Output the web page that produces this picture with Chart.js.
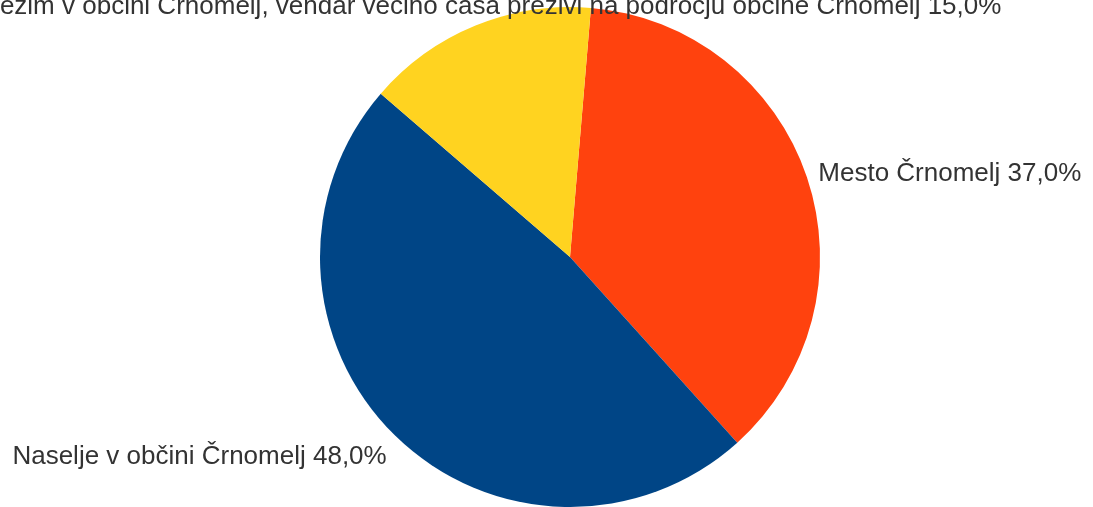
<!DOCTYPE html>
<html>
<head>
<meta charset="utf-8">
<script src="https://cdn.jsdelivr.net/npm/chart.js@4"></script>
<style>
  html, body { margin: 0; padding: 0; background: #fff; }
  #wrap { width: 1093px; height: 507px; position: relative; }
</style>
</head>
<body>
<div id="wrap"><canvas id="pieChart"></canvas></div>
<script>
const labels = [
  "Mesto Črnomelj",
  "Naselje v občini Črnomelj",
  "Ima režim v občini Črnomelj, vendar večino časa preživi na področju občine Črnomelj"
];
const values = [37.0, 48.0, 15.0];
const colors = ["#ff420e", "#004586", "#ffd320"];

// labels outside the slices, like the office export
const outsideLabels = {
  id: "outsideLabels",
  afterDraw(chart) {
    const { ctx } = chart;
    const meta = chart.getDatasetMeta(0);
    ctx.save();
    ctx.font = "26px 'Liberation Sans', Arial, sans-serif";
    ctx.fillStyle = "#333333";
    meta.data.forEach((arc, i) => {
      const mid = (arc.startAngle + arc.endAngle) / 2;
      const r = arc.outerRadius + 12;
      const x = arc.x + Math.cos(mid) * r;
      const y = arc.y + Math.sin(mid) * r;
      const c = Math.cos(mid), s = Math.sin(mid);
      if (Math.abs(c) < 0.4) {
        ctx.textAlign = "center";
        ctx.textBaseline = s < 0 ? "alphabetic" : "top";
      } else {
        ctx.textAlign = c > 0 ? "left" : "right";
        ctx.textBaseline = Math.abs(s) < 0.5 ? "middle" : (s < 0 ? "alphabetic" : "top");
      }
      const txt = labels[i] + " " + values[i].toFixed(1).replace(".", ",") + "%";
      ctx.fillText(txt, x, y);
    });
    ctx.restore();
  }
};

new Chart(document.getElementById("pieChart"), {
  type: "pie",
  data: {
    labels: labels,
    datasets: [{
      data: values,
      backgroundColor: colors,
      borderWidth: 0
    }]
  },
  options: {
    responsive: true,
    maintainAspectRatio: false,
    animation: false,
    rotation: 4.8,
    layout: { padding: { top: 7, left: 47, right: 0, bottom: 0 } },
    plugins: {
      legend: { display: false },
      tooltip: { enabled: false }
    }
  },
  plugins: [outsideLabels]
});
</script>
</body>
</html>
